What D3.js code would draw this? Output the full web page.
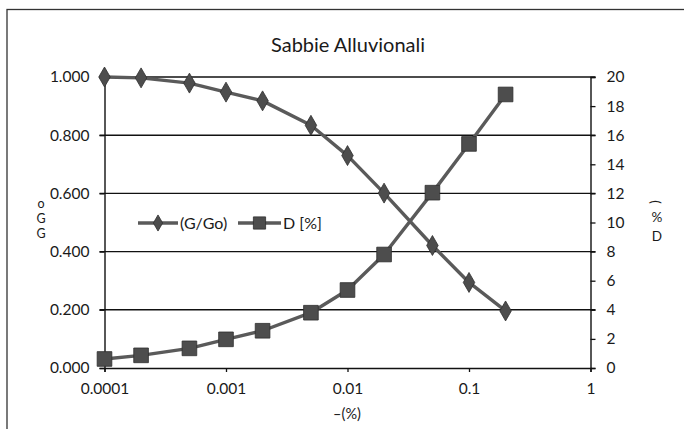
<!DOCTYPE html>
<html>
<head>
<meta charset="utf-8">
<script src="https://cdn.jsdelivr.net/npm/d3@7"></script>
<style>
  html, body { margin: 0; padding: 0; background: #fff; }
  svg { display: block; }
  text { font-family: Lato, "Open Sans", sans-serif; fill: #1a1a1a; }
</style>
</head>
<body>
<svg id="chart" width="684" height="429"></svg>
<script>
// Shear strain (%) at which both ratios were measured
const strain = [0.0001, 0.0002, 0.0005, 0.001, 0.002, 0.005, 0.01, 0.02, 0.05, 0.1, 0.2];
// Normalised shear modulus G/Go
const gRatio = [1.000, 0.997, 0.979, 0.948, 0.918, 0.834, 0.730, 0.601, 0.421, 0.294, 0.196];
// Damping ratio D [%]
const damping = [0.62, 0.87, 1.35, 1.97, 2.56, 3.80, 5.36, 7.80, 12.05, 15.40, 18.80];

const xTicks = [0.0001, 0.001, 0.01, 0.1, 1];
const xTickLabels = ["0.0001", "0.001", "0.01", "0.1", "1"];
const leftTicks = [0, 0.2, 0.4, 0.6, 0.8, 1.0];
const rightTicks = [0, 2, 4, 6, 8, 10, 12, 14, 16, 18, 20];

const svg = d3.select("#chart");
const plot = { left: 104.5, right: 590.5, top: 77, bottom: 368 };

const x = d3.scaleLog().domain([0.0001, 1]).range([plot.left, plot.right]);
const yL = d3.scaleLinear().domain([0, 1]).range([plot.bottom, plot.top]);
const yR = d3.scaleLinear().domain([0, 20]).range([plot.bottom, plot.top]);

const tickFont = 15.5;

// outer chart frame (runs past the right and bottom edges)
svg.append("rect")
  .attr("x", 7).attr("y", 9.5).attr("width", 700).attr("height", 440)
  .attr("fill", "none").attr("stroke", "#333").attr("stroke-width", 1.3);

// title
svg.append("text")
  .attr("x", 348).attr("y", 52).attr("text-anchor", "middle")
  .attr("font-size", 20).text("Sabbie Alluvionali");

// horizontal gridlines
svg.append("g").selectAll("line").data(leftTicks.filter(d => d > 0)).join("line")
  .attr("x1", plot.left - 5).attr("x2", plot.right + 5)
  .attr("y1", d => yL(d)).attr("y2", d => yL(d))
  .attr("stroke", "#111").attr("stroke-width", 1.4);

function styleAxis(g) {
  g.select(".domain").attr("stroke", "#111").attr("stroke-width", 1.4);
  g.selectAll(".tick line").attr("stroke", "#111").attr("stroke-width", 1.3);
  g.selectAll(".tick text").attr("font-size", tickFont)
    .attr("font-family", "Lato, sans-serif").attr("fill", "#1a1a1a");
}

// left axis
styleAxis(svg.append("g").attr("transform", `translate(${plot.left},0)`)
  .call(d3.axisLeft(yL).tickValues(leftTicks).tickFormat(d3.format(".3f")).tickSize(5).tickPadding(10)));

// right axis
styleAxis(svg.append("g").attr("transform", `translate(${plot.right},0)`)
  .call(d3.axisRight(yR).tickValues(rightTicks).tickSize(5).tickPadding(11)));

// bottom axis
styleAxis(svg.append("g").attr("transform", `translate(0,${plot.bottom})`)
  .call(d3.axisBottom(x).tickValues(xTicks).tickFormat((d, i) => xTickLabels[i]).tickSize(4).tickPadding(11)));

// axis titles
svg.append("text").attr("x", 347).attr("y", 419).attr("text-anchor", "middle")
  .attr("font-size", 14.5).text("–(%)");

const leftTitle = svg.append("text").attr("font-size", 12.5).attr("text-anchor", "middle");
[["o", 208], ["G", 223], ["G", 238]].forEach(([ch, yy]) =>
  leftTitle.append("tspan").attr("x", 41).attr("y", yy).text(ch));

const rightTitle = svg.append("text").attr("font-size", 13.5).attr("text-anchor", "middle");
[["%", 222], ["D", 241]].forEach(([ch, yy]) =>
  rightTitle.append("tspan").attr("x", 657).attr("y", yy).text(ch));
svg.append("text").attr("font-size", 13.5).attr("text-anchor", "middle")
  .attr("transform", "translate(656,202) rotate(90)").attr("dy", "0.35em").text("(");

const lineColor = "#5a5a5a";
const markFill = "#4d4d4d";
const markStroke = "#2e2e2e";

function drawSeries(values, yScale, symbolType, size) {
  const pts = strain.map((s, i) => [x(s), yScale(values[i])]);
  svg.append("path")
    .attr("d", d3.line()(pts))
    .attr("fill", "none").attr("stroke", lineColor).attr("stroke-width", 3.4)
    .attr("stroke-linejoin", "round");
  svg.append("g").selectAll("path").data(pts).join("path")
    .attr("transform", d => `translate(${d[0]},${d[1]})`)
    .attr("d", d3.symbol().type(symbolType).size(size))
    .attr("fill", markFill).attr("stroke", markStroke).attr("stroke-width", 0.8);
}

// D [%] on the right scale, G/Go on the left scale
drawSeries(damping, yR, d3.symbolSquare, 215);
drawSeries(gRatio, yL, d3.symbolDiamond, 115);

// legend
const legend = [
  { label: "(G/Go)", type: d3.symbolDiamond, size: 75, x0: 138, x1: 178, tx: 180 },
  { label: "D [%]", type: d3.symbolSquare, size: 150, x0: 238, x1: 281, tx: 283 }
];
const ly = 223;
legend.forEach(l => {
  svg.append("line").attr("x1", l.x0).attr("x2", l.x1).attr("y1", ly).attr("y2", ly)
    .attr("stroke", lineColor).attr("stroke-width", 3.4);
  svg.append("path").attr("transform", `translate(${(l.x0 + l.x1) / 2},${ly})`)
    .attr("d", d3.symbol().type(l.type).size(l.size))
    .attr("fill", markFill).attr("stroke", markStroke).attr("stroke-width", 0.8);
  svg.append("text").attr("x", l.tx).attr("y", ly).attr("dy", "0.36em")
    .attr("font-size", 16).text(l.label);
});
</script>
</body>
</html>
